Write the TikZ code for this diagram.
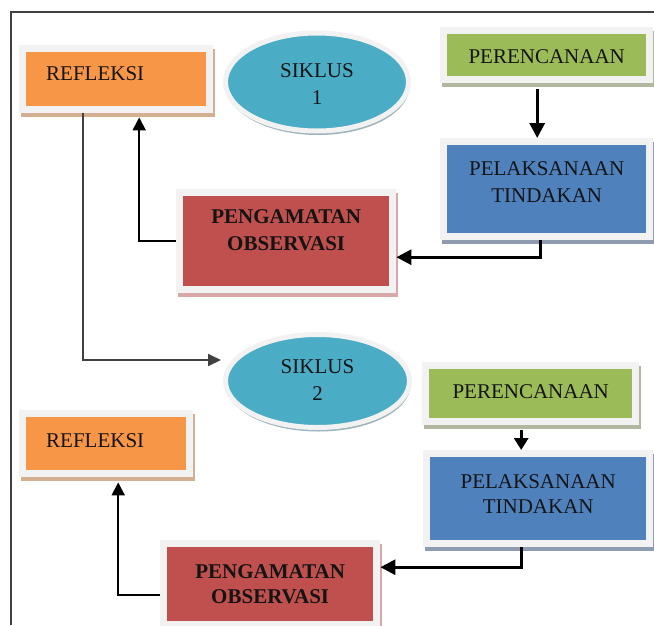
\documentclass[tikz,border=0pt]{standalone}
\usepackage{fontspec}
\setmainfont{Liberation Serif}
\usetikzlibrary{shadows,arrows.meta,shapes.geometric}
\definecolor{cOrange}{HTML}{F79646}
\definecolor{cGreen}{HTML}{9BBB59}
\definecolor{cBlue}{HTML}{4F81BD}
\definecolor{cRed}{HTML}{C0504D}
\definecolor{cTeal}{HTML}{4BACC6}
\definecolor{cFrame}{HTML}{F2F2F2}
\definecolor{cText}{HTML}{141414}
\definecolor{cOrangeSh}{HTML}{D4B090}
\definecolor{cGreenSh}{HTML}{B0B8A0}
\definecolor{cBlueSh}{HTML}{8E9BB0}
\definecolor{cRedSh}{HTML}{D8A8A8}
\definecolor{cTealSh}{HTML}{9DB4BC}
\begin{document}
\begin{tikzpicture}[x=1pt,y=-1pt,
  panel/.style 2 args={rectangle, anchor=north west, inner sep=0pt, fill=cFrame,
    text=cText, align=center, font=\fontsize{21}{27}\selectfont,
    path picture={\fill[#1] ([shift={(7pt,-7pt)}]path picture bounding box.north west)
      rectangle ([shift={(-7pt,7pt)}]path picture bounding box.south east);},
    drop shadow={shadow xshift=2pt, shadow yshift=-4pt, opacity=1, fill=#2}},
  oval/.style={ellipse, draw=cFrame, line width=5pt, fill=cTeal, inner sep=0pt,
    text width=100pt, align=center, text=cText, font=\fontsize{21}{27}\selectfont,
    drop shadow={shadow xshift=1pt, shadow yshift=-4pt, opacity=1, fill=cTealSh}},
  arr/.style={-{Triangle[length=13pt,width=13pt]}, line width=2pt, draw=black},
  thickarr/.style={-{Triangle[length=15pt,width=15pt]}, line width=3.2pt, draw=black},
]
\useasboundingbox (0,0) rectangle (654,625);
\fill[white] (0,0) rectangle (654,625);
\draw[line width=1.5pt, draw=black!75] (11,625) -- (11,12) -- (654,12);

% cycle 1
\node[panel={cOrange}{cOrangeSh}, text width=140pt, inner xsep=27pt, align=left,
  text height=35pt, text depth=33pt] (R1) at (19,45) {REFLEKSI};
\node[oval, minimum width=183pt, minimum height=98pt, text height=14pt, text depth=24pt]
  (E1) at (317,82) {SIKLUS\\1};
\node[panel={cGreen}{cGreenSh}, text width=213pt, text height=36pt, text depth=20pt]
  (P1) at (440,27) {PERENCANAAN};
\node[panel={cBlue}{cBlueSh}, text width=213pt, text height=37pt, text depth=65pt]
  (L1) at (440,138) {PELAKSANAAN\\TINDAKAN};
\node[panel={cRed}{cRedSh}, text width=220pt, text height=34pt, text depth=70pt,
  font=\fontsize{21}{27}\selectfont\bfseries]
  (G1) at (176,189) {PENGAMATAN\\OBSERVASI};

% cycle 2
\node[oval, minimum width=184pt, minimum height=93pt, text height=14pt, text depth=30pt]
  (E2) at (317.5,381) {SIKLUS\\2};
\node[panel={cOrange}{cOrangeSh}, text width=120pt, inner xsep=27pt, align=left,
  text height=37pt, text depth=30pt] (R2) at (19,410) {REFLEKSI};
\node[panel={cGreen}{cGreenSh}, text width=217pt, text height=36pt, text depth=27pt]
  (P2) at (422,362) {PERENCANAAN};
\node[panel={cBlue}{cBlueSh}, text width=230pt, text height=38pt, text depth=59pt,
  font=\fontsize{21}{25}\selectfont]
  (L2) at (423,450) {PELAKSANAAN\\TINDAKAN};
\node[panel={cRed}{cRedSh}, text width=220pt, text height=38pt, text depth=50pt,
  font=\fontsize{21}{25}\selectfont\bfseries]
  (G2) at (160,540) {PENGAMATAN\\OBSERVASI};

% connectors cycle 1
\draw[thickarr] ([shift={(-9.5pt,-6pt)}]P1.south) -- ([xshift=-9.5pt]P1.south |- L1.north);
\draw[thickarr, line width=3pt] ([xshift=-6.5pt]L1.south) |- ([yshift=-16pt]G1.east);
\draw[arr] (G1.west) -| ([shift={(23pt,-4pt)}]R1.south);
\draw[arr, draw=black!75, line width=1.8pt, -{Triangle[length=13pt,width=12pt]}]
  ([xshift=-33pt]R1.south) |- ([shift={(-2pt,21pt)}]E2.west);

% connectors cycle 2
\draw[thickarr, line width=3pt, -{Triangle[length=12pt,width=14pt]}]
  ([shift={(-9.5pt,-5pt)}]P2.south) -- ([xshift=-9.5pt]P2.south |- L2.north);
\draw[thickarr, line width=3pt] ([xshift=-17pt]L2.south) |- ([yshift=17pt]G2.east);
\draw[arr] ([yshift=-11pt]G2.west) -| ([shift={(12pt,-5pt)}]R2.south);
\end{tikzpicture}
\end{document}
